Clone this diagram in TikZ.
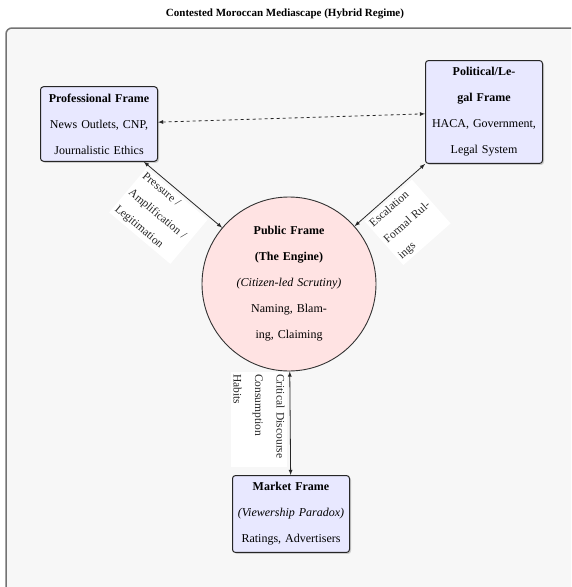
\documentclass[tikz,border=0pt]{standalone}
\usepackage{fontspec}
\setmainfont{Liberation Serif}
\usetikzlibrary{shapes}
\usetikzlibrary{arrows}
\usetikzlibrary{shadows}
\usetikzlibrary{positioning}

\begin{document}
\begin{tikzpicture}[x=1pt,y=-1pt,>=latex,
    framebox/.style={draw=black!85,line width=1pt,rounded corners=3pt,fill=blue!9,
      drop shadow={opacity=0.35,shadow xshift=1.5pt,shadow yshift=-1.5pt},
      text width=108pt,inner xsep=4.5pt,inner ysep=7pt,align=center,
      font=\fontsize{12}{26}\selectfont},
    hub/.style={circle,draw=black!80,line width=0.9pt,fill=red!11,minimum size=174pt,
      text width=120pt,inner sep=2pt,align=center,font=\fontsize{12}{26}\selectfont},
    twoway/.style={<->,line width=0.8pt,black!85},
    linklabel/.style={fill=white,align=left,inner sep=2.5pt,outer sep=3pt,
      font=\fontsize{11.5}{21.5}\selectfont}]

  \useasboundingbox (0,0) rectangle (571,587);
  \clip (0,0) rectangle (571,587);
  \draw[rounded corners=6pt,fill=black!3,draw=black!55,line width=1.5pt] (6,28) rectangle (600,620);
  \node[font=\fontsize{11}{13}\selectfont\bfseries] (title) at (285,14)
    {Contested Moroccan Mediascape (Hybrid Regime)};

  \node[framebox] (prof) at (99,124)
    {\textbf{Professional Frame}\\News Outlets, CNP,\\Journalistic Ethics};
  \node[framebox] (polit) at (484,112)
    {\textbf{Political/Le-}\\\textbf{gal Frame}\\HACA, Government,\\Legal System};
  \node[hub] (public) at (289,284)
    {\textbf{Public Frame}\\\textbf{(The Engine)}\\\textit{(Citizen-led Scrutiny)}\\Naming, Blam-\\ing, Claiming};
  \node[framebox] (market) at (291,514)
    {\textbf{Market Frame}\\\textit{(Viewership Paradox)}\\Ratings, Advertisers};

  \draw[twoway,dashed] (prof) -- (polit);
  \draw[twoway] (prof) -- node[linklabel,sloped,below,pos=0.45,text width=75pt]
    {Pressure /\\Amplification /\\Legitimation} (public);
  \draw[twoway] (public) -- node[linklabel,sloped,below,pos=0.45,text width=58pt]
    {Escalation\\Formal Rul-\\ings} (polit);
  \draw[twoway] (public) -- node[linklabel,rotate=-90,anchor=north,pos=0.46,text width=90pt]
    {Critical Discourse\\Consumption\\Habits} (market);
\end{tikzpicture}
\end{document}
